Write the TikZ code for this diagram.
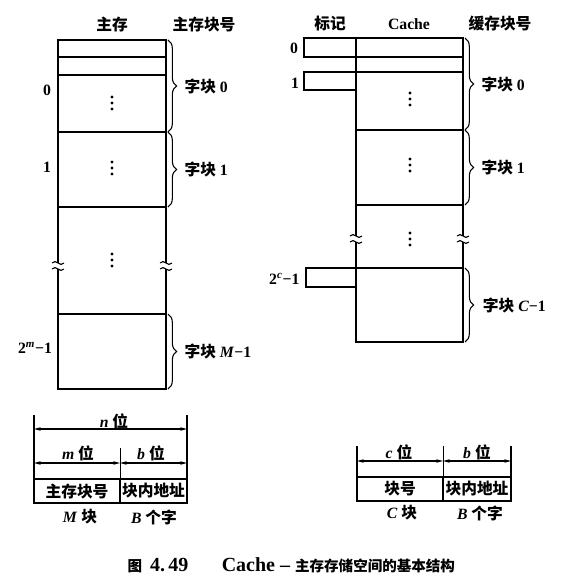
\documentclass[tikz,border=0pt]{standalone}
\usepackage{fontspec}
\setmainfont{Liberation Serif}
\newfontfamily\cjk{Noto Sans CJK SC}
\usetikzlibrary{positioning,decorations.pathreplacing,arrows.meta}

\tikzset{
  lbl/.style={font=\fontsize{11.8}{14}\selectfont\bfseries, inner sep=1pt},
  mcell/.style={rectangle, draw, line width=1.2pt, inner sep=0pt, outer sep=0pt, minimum width=81pt},
  ccell/.style={rectangle, draw, line width=1.2pt, inner sep=0pt, outer sep=0pt, minimum width=80.25pt},
  tagbox/.style={rectangle, draw, line width=1.1pt, inner sep=0pt, outer sep=0pt, anchor=north east},
  fcell/.style={rectangle, draw, line width=1.1pt, inner sep=0pt, outer sep=0pt, minimum height=18pt, font=\fontsize{11.8}{14}\selectfont\bfseries},
  brc/.style={decorate, decoration={brace, amplitude=6.5pt}, line width=0.8pt},
  dim/.style={{Stealth[length=5pt,width=2.6pt]}-{Stealth[length=5pt,width=2.6pt]}, line width=0.9pt},
}
\newcommand{\vdotsat}[2]{\foreach \d in {-6,0,6} \fill (#1,#2+\d) circle (1.3pt);}
\newcommand{\brkat}[2]{%
  \fill[white] (#1-3,#2-3) rectangle (#1+3,#2+3);
  \draw[line width=0.8pt] (#1-6,#2-3) .. controls (#1-2,#2-8) and (#1+2,#2+2) .. (#1+6,#2-3);
  \draw[line width=0.8pt] (#1-6,#2+3) .. controls (#1-2,#2-2) and (#1+2,#2+8) .. (#1+6,#2+3);}

\begin{document}
\begin{tikzpicture}[x=0.75pt,y=-0.75pt]
\useasboundingbox (0,0) rectangle (577,588);

% main memory
\node (hmain) [lbl] at (112,25) {\cjk 主存};
\node (hmno) [lbl] at (204,25) {\cjk 主存块号};
\node (m0) [mcell, anchor=north west, minimum height=69pt] at (58,40) {};
\node (m1) [mcell, below=0pt of m0, minimum height=56.25pt] {};
\node (mx) [mcell, below=0pt of m1, minimum height=80.25pt] {};
\node (mm) [mcell, below=0pt of mx, minimum height=56.25pt] {};
\draw[line width=1pt] (m0.north west) ++(0,17) -- ++(108,0);
\draw[line width=1pt] (m0.north west) ++(0,35) -- ++(108,0);
\vdotsat{112}{103}
\vdotsat{112}{168}
\vdotsat{112}{260}
\brkat{58}{266}
\brkat{166}{266}
\node (mi0) [lbl] at (47,90) {0};
\node (mi1) [lbl] at (47,167) {1};
\node (mim) [lbl] at (35,348) {2\textsuperscript{\itshape m}−1};

\draw[brc] ([xshift=1.5pt]m0.north east) -- ([xshift=1.5pt]m0.south east)
  node (bm0) [lbl, midway, anchor=west, xshift=11pt] {{\cjk 字块} 0};
\draw[brc] ([xshift=1.5pt]m1.north east) -- ([xshift=1.5pt]m1.south east)
  node (bm1) [lbl, midway, anchor=west, xshift=11pt] {{\cjk 字块} 1};
\draw[brc] ([xshift=1.5pt]mm.north east) -- ([xshift=1.5pt]mm.south east)
  node (bmm) [lbl, midway, anchor=west, xshift=11pt] {{\cjk 字块} \textit{M}−1};

% cache
\node (htag) [lbl] at (330,24) {\cjk 标记};
\node (hcache) [lbl] at (409,24) {Cache};
\node (hcno) [lbl] at (500,24) {\cjk 缓存块号};
\node (c0) [ccell, anchor=north west, minimum height=69pt] at (356,38) {};
\node (c1) [ccell, below=0pt of c0, minimum height=56.25pt] {};
\node (cx) [ccell, below=0pt of c1, minimum height=47.25pt] {};
\node (cc) [ccell, below=0pt of cx, minimum height=55.5pt] {};
\draw[line width=1pt] (c0.north west) ++(0,19) -- ++(107,0);
\draw[line width=1pt] (c0.north west) ++(0,34) -- ++(107,0);
\node (t0) [tagbox, minimum width=39pt, minimum height=14.25pt] at (c0.north west) {};
\node (t1) [tagbox, minimum width=39pt, minimum height=13.5pt] at (356,72) {};
\node (tc) [tagbox, minimum width=37.5pt, minimum height=14.25pt] at (cc.north west) {};
\vdotsat{410}{99}
\vdotsat{410}{165}
\vdotsat{410}{239}
\brkat{356}{239}
\brkat{463}{239}
\node (ti0) [lbl] at (294,48) {0};
\node (ti1) [lbl] at (295,83) {1};
\node (tic) [lbl, anchor=east] at (301,279) {2\textsuperscript{\itshape c}−1};

\draw[brc] ([xshift=1.5pt]c0.north east) -- ([xshift=1.5pt]c0.south east)
  node (bc0) [lbl, midway, anchor=west, xshift=11pt] {{\cjk 字块} 0};
\draw[brc] ([xshift=1.5pt]c1.north east) -- ([xshift=1.5pt]c1.south east)
  node (bc1) [lbl, midway, anchor=west, xshift=11pt] {{\cjk 字块} 1};
\draw[brc] ([xshift=1.5pt]cc.north east) -- ([xshift=1.5pt]cc.south east)
  node (bcc) [lbl, midway, anchor=west, xshift=12pt] {{\cjk 字块} \textit{C}−1};

% main memory address
\node (a1) [fcell, anchor=north west, minimum width=64.5pt] at (34,479) {\cjk 主存块号};
\node (a2) [fcell, right=0pt of a1, minimum width=50.25pt] {\cjk 块内地址};
\draw[line width=1.1pt] (a1.south west) -- ++(0,-88) coordinate (nl);
\draw[line width=1.1pt] (a2.south east) -- ++(0,-88) coordinate (nr);
\draw[line width=0.6pt] (a2.south west) -- ++(0,-55) coordinate (am);
\coordinate (an1) at (34,429);
\coordinate (an2) at (187,429);
\coordinate (am1) at (34,463);
\coordinate (am2) at (120,463);
\coordinate (am3) at (187,463);
\draw[dim] (an1) -- (an2);
\draw[dim] (am1) -- (am2);
\draw[dim] (am2) -- (am3);
\node (ln) [lbl] at (114,421) {\textit{n} {\cjk 位}};
\node (lm) [lbl] at (78,453) {\textit{m} {\cjk 位}};
\node (lb) [lbl] at (151,453) {\textit{b} {\cjk 位}};
\node (lM) [lbl] at (80,517) {\textit{M} {\cjk 块}};
\node (lB) [lbl] at (154,517) {\textit{B} {\cjk 个字}};

% cache address
\node (d1) [fcell, anchor=north west, minimum width=64.5pt] at (357,477) {\cjk 块号};
\node (d2) [fcell, right=0pt of d1, minimum width=51pt] {\cjk 块内地址};
\draw[line width=1.1pt] (d1.south west) -- ++(0,-55) coordinate (cl);
\draw[line width=1.1pt] (d2.south east) -- ++(0,-55) coordinate (cr);
\draw[line width=0.6pt] (d2.south west) -- ++(0,-55) coordinate (cm);
\coordinate (ac1) at (357,461);
\coordinate (ac2) at (443,461);
\coordinate (ac3) at (511,461);
\draw[dim] (ac1) -- (ac2);
\draw[dim] (ac2) -- (ac3);
\node (lc) [lbl] at (399,452) {\textit{c} {\cjk 位}};
\node (lb2) [lbl] at (477,452) {\textit{b} {\cjk 位}};
\node (lC) [lbl] at (402,513) {\textit{C} {\cjk 块}};
\node (lB2) [lbl] at (480,513) {\textit{B} {\cjk 个字}};

\node (cap) [lbl, anchor=west] at (126,565) {\fontsize{10.9}{13}\selectfont{\cjk 图}\hspace{6pt}{\fontsize{15}{16}\selectfont 4.\,49\hspace{25pt}Cache – }{\cjk 主存存储空间的基本结构}};
\end{tikzpicture}
\end{document}
